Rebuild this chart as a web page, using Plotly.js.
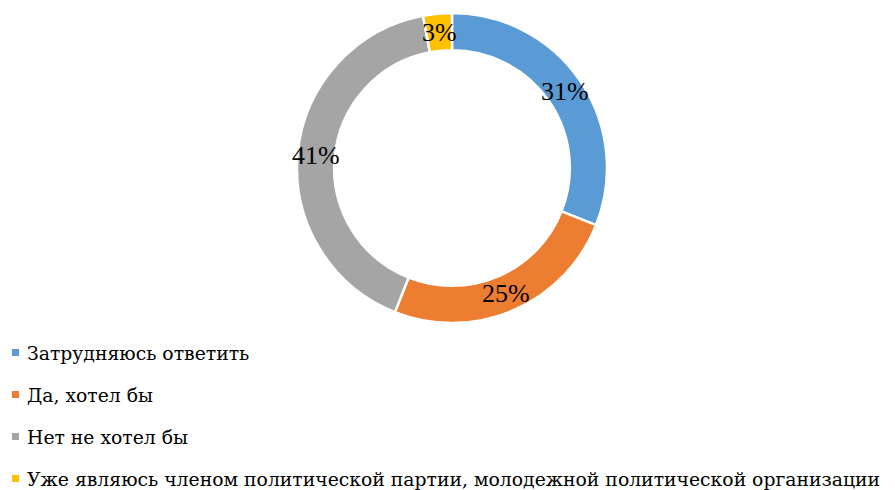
<!DOCTYPE html>
<html>
<head>
<meta charset="utf-8">
<script src="https://cdn.plot.ly/plotly-3.0.1.min.js"></script>
<style>html,body{margin:0;padding:0;background:#fff;}#chart{width:895px;height:490px;}</style>
</head>
<body>
<div id="chart"></div>
<script>
const categories = [
  "Затрудняюсь ответить",
  "Да, хотел бы",
  "Нет не хотел бы",
  "Уже являюсь членом политической партии, молодежной политической организации"
];
const values = [31, 25, 41, 3];
const colors = ["#5B9BD5", "#ED7D31", "#A5A5A5", "#FFC000"];

const W = 895, H = 490;
const cx = 452, cy = 168, R = 155, hole = 0.76;
const FONT = "Liberation Serif, DejaVu Serif, serif";
const LEG_FONT = "DejaVu Serif, Liberation Serif, serif";
const LEG_SIZE = 18.8;

const total = values.reduce((a, b) => a + b, 0);
const rMid = R * (1 + hole) / 2;
const annotations = [];
let cum = 0;
values.forEach((v, i) => {
  const f = (cum + v / 2) / total;
  cum += v;
  const th = 2 * Math.PI * f;
  const px = cx + rMid * Math.sin(th);
  const py = cy - rMid * Math.cos(th);
  annotations.push({
    x: px / W, y: 1 - py / H, xref: 'paper', yref: 'paper',
    text: Math.round(v / total * 100) + '%', showarrow: false,
    xanchor: 'center', yanchor: 'middle',
    font: {family: FONT, size: 26, color: '#000'}
  });
});

const shapes = [];
const legX = 15.5, legY0 = 352.5, legStep = 42, sq = 7;
categories.forEach((c, i) => {
  const yy = legY0 + i * legStep;
  shapes.push({
    type: 'rect', xref: 'paper', yref: 'paper',
    x0: (legX - sq / 2) / W, x1: (legX + sq / 2) / W,
    y0: 1 - (yy + sq / 2) / H, y1: 1 - (yy - sq / 2) / H,
    fillcolor: colors[i], line: {width: 0}
  });
  annotations.push({
    x: 25 / W, y: 1 - (yy + 1) / H, xref: 'paper', yref: 'paper',
    text: c, showarrow: false, xanchor: 'left', yanchor: 'middle',
    font: {family: LEG_FONT, size: LEG_SIZE, color: '#000'}
  });
});

const trace = {
  type: 'pie',
  labels: categories,
  values: values,
  hole: hole,
  sort: false,
  direction: 'clockwise',
  rotation: 0,
  textinfo: 'none',
  hoverinfo: 'label+percent',
  marker: {colors: colors, line: {color: '#ffffff', width: 2.5}},
  domain: {x: [(cx - R) / W, (cx + R) / W], y: [1 - (cy + R) / H, 1 - (cy - R) / H]},
  showlegend: false
};

Plotly.newPlot('chart', [trace], {
  width: W, height: H,
  margin: {l: 0, r: 0, t: 0, b: 0},
  paper_bgcolor: '#fff', plot_bgcolor: '#fff',
  showlegend: false,
  font: {family: FONT},
  annotations: annotations,
  shapes: shapes
}, {displayModeBar: false, staticPlot: true});
</script>
</body>
</html>
